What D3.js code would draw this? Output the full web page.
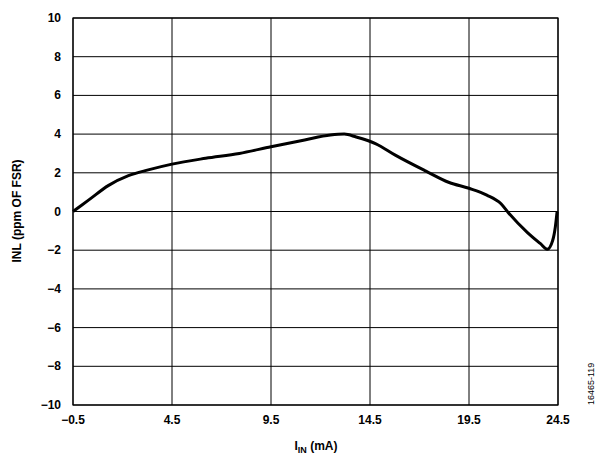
<!DOCTYPE html>
<html><head><meta charset="utf-8">
<script src="https://cdn.jsdelivr.net/npm/d3@7"></script>
<style>body{margin:0;background:#fff}text{font-family:"Liberation Sans",Arial,sans-serif;font-weight:bold}</style>
</head><body><svg id="c" width="600" height="465"></svg>
<script>
var iin = [-0.5, 0.3, 1.3, 2.3, 3.3, 4.5, 6.2, 7.9, 9.5, 11.2, 12.5, 13.2, 13.8, 14.8, 15.8, 17.3, 18.5, 19.5, 20.5, 21.3, 21.7, 22.8, 23.5, 23.9, 24.2, 24.35, 24.45];
var inl = [0, 0.6, 1.35, 1.85, 2.15, 2.45, 2.75, 3.0, 3.35, 3.7, 3.95, 4.0, 3.85, 3.5, 2.9, 2.1, 1.5, 1.2, 0.85, 0.4, -0.05, -1.1, -1.65, -1.95, -1.5, -0.8, 0];
var xTicks = [-0.5, 4.5, 9.5, 14.5, 19.5, 24.5];
var yTicks = [-10, -8, -6, -4, -2, 0, 2, 4, 6, 8, 10];

var svg = d3.select("#c");
// last grid interval is narrower in the original
var x = d3.scaleLinear().domain([-0.5, 19.5, 24.5]).range([73, 469, 558]);
var y = d3.scaleLinear().domain([-10, 10]).range([405, 18]);
var fmt = function(v){ return (v < 0 ? "\u2212" + Math.abs(v) : "" + v); };

svg.append("g").selectAll("line").data(xTicks).enter().append("line")
  .attr("x1", d => x(d)).attr("x2", d => x(d)).attr("y1", y(-10)).attr("y2", y(10))
  .attr("stroke", "#000").attr("stroke-width", 1);
svg.append("g").selectAll("line").data(yTicks).enter().append("line")
  .attr("y1", d => y(d)).attr("y2", d => y(d)).attr("x1", x(-0.5)).attr("x2", x(24.5))
  .attr("stroke", "#000").attr("stroke-width", 1);
svg.append("rect").attr("x", x(-0.5)).attr("y", y(10)).attr("width", x(24.5) - x(-0.5)).attr("height", y(-10) - y(10))
  .attr("fill", "none").attr("stroke", "#000").attr("stroke-width", 1.2);

svg.append("g").selectAll("text").data(xTicks).enter().append("text")
  .attr("x", d => x(d)).attr("y", 424).attr("text-anchor", "middle").attr("font-size", 12)
  .text(d => d < 0 ? "\u2212" + Math.abs(d).toFixed(1) : d.toFixed(1));
svg.append("g").selectAll("text").data(yTicks).enter().append("text")
  .attr("x", 61).attr("y", d => y(d) + 4).attr("text-anchor", "end").attr("font-size", 12)
  .text(fmt);

var line = d3.line().x((d, i) => x(iin[i])).y(d => y(d)).curve(d3.curveMonotoneX);
svg.append("path").datum(inl).attr("d", line).attr("fill", "none")
  .attr("stroke", "#000").attr("stroke-width", 3);

var xl = svg.append("text").attr("x", 316).attr("y", 450).attr("text-anchor", "middle").attr("font-size", 12);
xl.append("tspan").text("I");
xl.append("tspan").attr("font-size", 9).attr("dy", 3).text("IN");
xl.append("tspan").attr("dy", -3).text(" (mA)");
svg.append("text").attr("transform", "translate(21,211) rotate(-90)").attr("text-anchor", "middle")
  .attr("font-size", 12).text("INL (ppm OF FSR)");
svg.append("text").attr("transform", "translate(594,405) rotate(-90)").attr("text-anchor", "start")
  .attr("font-size", 9).style("font-weight", "normal").text("16465-119");
</script></body></html>
